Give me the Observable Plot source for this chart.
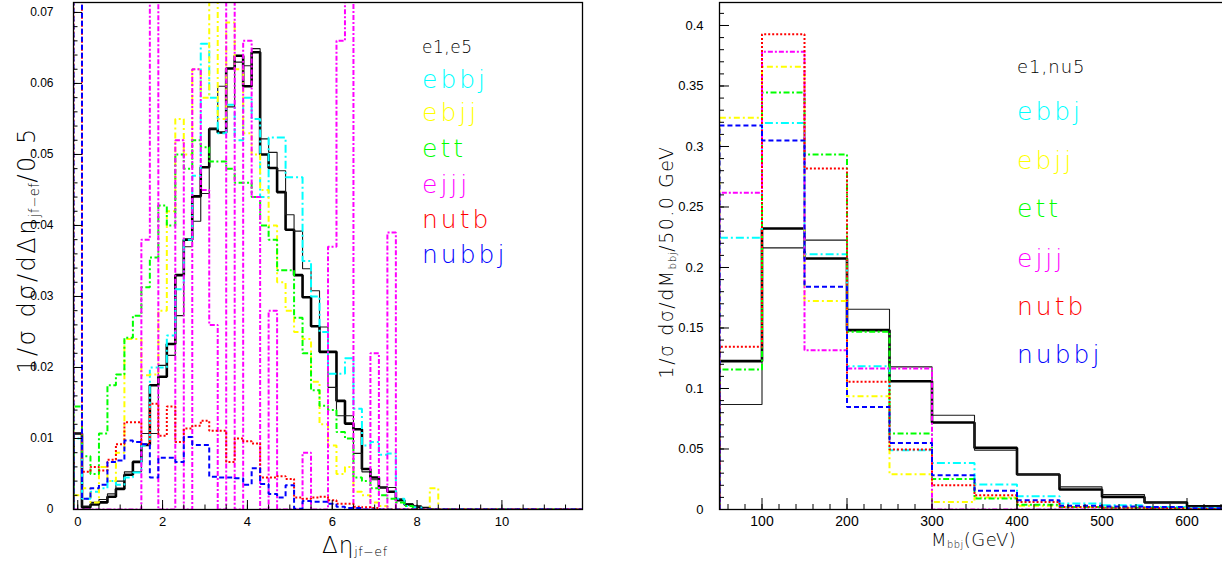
<!DOCTYPE html>
<html><head><meta charset="utf-8">
<script src="https://cdn.jsdelivr.net/npm/d3@7"></script>
<script src="https://cdn.jsdelivr.net/npm/@observablehq/plot@0.6"></script>
<style>
html,body{margin:0;padding:0;background:#fff;}
body{width:1222px;height:566px;overflow:hidden;position:relative;font-family:"Liberation Sans",Arial,sans-serif;}
#left,#right{position:absolute;top:0;}
#left{left:0;} #right{left:600px;}
svg{max-width:none !important;}
.t{position:absolute;white-space:nowrap;font-family:"DejaVu Sans ExtraLight","DejaVu Sans","Liberation Sans",sans-serif;font-weight:200;line-height:1;}
.t sub{font-size:55%;vertical-align:-0.25em;letter-spacing:0.5px;}
</style></head><body>
<div id="left"></div><div id="right"></div>
<script>
// ---------- DATA ----------
const seriesNames = ["e1","e5","ebbj","ebjj","ett","ejjj","nutb","nubbj"];
const legendLeft = ["e1,e5","ebbj","ebjj","ett","ejjj","nutb","nubbj"];
const legendRight = ["e1,nu5","ebbj","ebjj","ett","ejjj","nutb","nubbj"];

// Δη(jf-ef) histograms: 60 bins of 0.2 starting at -0.1
const etaBinStart = -0.1, etaBinWidth = 0.2;
const etaE1 = [0.0107,0.0003,0.0007,0.001,0.0018,0.0029,0.0049,0.0067,0.0091,0.0175,
 0.0187,0.0233,0.033,0.038,0.0441,0.0482,0.0536,0.0531,0.0621,0.0639,
 0.0596,0.0644,0.05,0.0481,0.0447,0.0394,0.033,0.0299,0.0258,0.0222,
 0.0222,0.0153,0.0121,0.0113,0.0057,0.0045,0.0031,0.0025,0.0013,0.0007,
 0.0004,0.0002,0,0,0,0,0,0,0,0, 0,0,0,0,0,0,0,0,0,0];
const etaE5 = [0.0107,0.0005,0.001,0.0014,0.0022,0.004,0.0053,0.0053,0.0107,0.0107,
 0.0203,0.0217,0.0273,0.037,0.0406,0.0445,0.0536,0.0596,0.0567,0.063,
 0.0625,0.0649,0.0522,0.0503,0.0477,0.0415,0.0392,0.0339,0.0308,0.0257,
 0.0172,0.0132,0.0132,0.0079,0.0053,0.0042,0.0031,0.0031,0.0015,0.0008,
 0.0004,0.0002,0,0,0,0,0,0,0,0, 0,0,0,0,0,0,0,0,0,0];
const etaEbbj = [0.010,0.0015,0.0025,0.003,0.004,0.0035,0.0045,0.0052,0.009,0.020,
 0.020,0.0245,0.031,0.038,0.047,0.0656,0.058,0.053,0.057,0.052,
 0.058,0.055,0.044,0.0524,0.0524,0.0468,0.0468,0.035,0.030,0.025,
 0.0191,0.0191,0.0213,0.0142,0.009,0.0095,0.0077,0.0079,0.0015,0.0005,
 0.0003,0,0,0,0,0,0,0,0,0, 0,0,0,0,0,0,0,0,0,0];
const etaEbjj = [0.002,0.003,0.001,0.006,0.004,0.008,0.024,0.024,0.0189,0.019,
 0.028,0.042,0.055,0.050,0.062,0.058,0.2,0.055,0.0686,0.062,
 0.053,0.050,0.045,0.040,0.032,0.028,0.025,0.024,0.018,0.012,
 0.009,0.005,0.006,0.0025,0.002,0.001,0.0005,0,0,0,
 0,0,0.003,0,0,0,0,0,0,0, 0,0,0,0,0,0,0,0,0,0];
const etaEtt = [0.0145,0.0075,0.005,0.0107,0.0175,0.019,0.0242,0.0273,0.0313,0.0355,
 0.0428,0.040,0.050,0.048,0.052,0.051,0.049,0.049,0.048,0.046,
 0.046,0.044,0.040,0.038,0.0337,0.0337,0.027,0.022,0.0168,0.0146,
 0.014,0.0109,0.010,0.0045,0.004,0.003,0.002,0.0015,0.001,0.0005,
 0,0,0,0,0,0,0,0,0,0, 0,0,0,0,0,0,0,0,0,0];
const etaEjjj = [0,0,0,0,0,0,0,0,0.038,0.2,
 0,0,0.052,0,0.062,0.045,0.026,0,0.2,0,
 0.066,0.044,0,0.028,0,0,0,0.008,0,0,
 0.037,0.066,0.2,0,0,0.022,0,0.039,0,0,
 0,0,0,0,0,0,0,0,0,0, 0,0,0,0,0,0,0,0,0,0];
const etaNutb = [0.2,0.0053,0.006,0.0055,0.007,0.0092,0.0123,0.0123,0.0092,0.0149,
 0.0104,0.0145,0.0095,0.0114,0.0118,0.0125,0.0111,0.0111,0.0067,0.010,
 0.0096,0.0093,0.0045,0.0045,0.0047,0.0043,0.0017,0.0015,0.0017,0.0018,
 0.0013,0.0008,0.0008,0.0004,0.0003,0.0002,0,0,0,0,
 0,0,0,0,0,0,0,0,0,0, 0,0,0,0,0,0,0,0,0,0];
const etaNubbj = [0.2,0.0015,0.003,0.0035,0.0067,0.0069,0.0097,0.0095,0.0092,0.0045,
 0.0073,0.0073,0.0067,0.0102,0.0091,0.0091,0.0046,0.0045,0.0045,0.0044,
 0.0035,0.0058,0.0036,0.0022,0.0017,0.0034,0.0001,0.0012,0.0011,0.0011,
 0.0008,0.0004,0.0002,0.0002,0,0,0,0,0,0,
 0,0,0,0,0,0,0,0,0,0, 0,0,0,0,0,0,0,0,0,0];

// M(bbj) histograms: 12 bins of 50 GeV starting at 50
const massBinStart = 50, massBinWidth = 50;
const mE1    = [0.1226,0.2322,0.2074,0.1482,0.106,0.0719,0.0509,0.0289,0.0165,0.0104,0.0058,0.0027];
const mE5    = [0.0868,0.2162,0.2226,0.1655,0.1179,0.0779,0.049,0.029,0.0187,0.0124,0.006,0.0027];
const mEbbj  = [0.2245,0.3195,0.211,0.1184,0.049,0.0385,0.0207,0.011,0.005,0.0036,0.002,0.001];
const mEbjj  = [0.3237,0.3658,0.1724,0.0936,0.0292,0.0063,0.010,0.003,0.002,0.0015,0.001,0.0005];
const mEtt   = [0.1157,0.3446,0.2934,0.1468,0.0628,0.0253,0.0091,0.004,0.002,0.0015,0.001,0.0005];
const mEjjj  = [0.2617,0.3782,0.1317,0.1165,0.1165,0,0,0,0,0,0,0];
const mNutb  = [0.1344,0.3928,0.2818,0.1055,0.0496,0.0201,0.0118,0.0063,0.002,0.0015,0.001,0.0005];
const mNubbj = [0.3174,0.305,0.184,0.0848,0.055,0.0283,0.0154,0.0077,0.003,0.0025,0.002,0.001];

// tick labels
const leftYTicks = [0,0.01,0.02,0.03,0.04,0.05,0.06,0.07];
const leftXTicks = [0,2,4,6,8,10];
const rightYTicks = [0,0.05,0.1,0.15,0.2,0.25,0.3,0.35,0.4];
const rightXTicks = [100,200,300,400,500,600];

// ---------- STYLES ----------
const style = {
  e1:    {stroke:"#000000", width:2.6, dash:null},
  e5:    {stroke:"#1a1a1a", width:1.1, dash:null},
  ebbj:  {stroke:"#00ffff", width:2, dash:"8,3,2,3"},
  ebjj:  {stroke:"#ffff00", width:2, dash:"6,3,2,3"},
  ett:   {stroke:"#00ff00", width:2, dash:"6,2.5,2,2.5"},
  ejjj:  {stroke:"#ff00ff", width:2, dash:"5,2,2,2"},
  nutb:  {stroke:"#ff0000", width:2, dash:"2,2"},
  nubbj: {stroke:"#0000ff", width:2, dash:"5,3"}
};
const legendColor = ["#000000","#00ffff","#ffff00","#00ff00","#ff00ff","#ff0000","#0000ff"];

function steps(values, start, width) {
  const pts = [{x: start, y: 0}];
  values.forEach((v, i) => {
    pts.push({x: start + i * width, y: v});
    pts.push({x: start + (i + 1) * width, y: v});
  });
  pts.push({x: start + values.length * width, y: 0});
  return pts;
}
function histMarks(arrays, start, width) {
  return seriesNames.map((name, i) => {
    const s = style[name];
    const o = {x: "x", y: "y", stroke: s.stroke, strokeWidth: s.width, clip: true, curve: "linear",
      strokeLinecap: "butt", strokeLinejoin: "miter"};
    if (s.dash) o.strokeDasharray = s.dash;
    return Plot.line(steps(arrays[i], start, width), o);
  });
}

// ---------- LEFT PANEL ----------
const left = Plot.plot({
  width: 600, height: 566,
  marginLeft: 73, marginRight: 18, marginTop: 2, marginBottom: 57,
  style: {background: "transparent", fontFamily: "Liberation Sans, Arial, sans-serif", fontSize: "12px", color: "#000"},
  x: {domain: [-0.1, 11.9], label: null},
  y: {domain: [0, 0.0714], label: null},
  marks: [
    ...histMarks([etaE1, etaE5, etaEbbj, etaEbjj, etaEtt, etaEjjj, etaNutb, etaNubbj], etaBinStart, etaBinWidth),
    Plot.axisY(d3.range(0, 0.0715, 0.002), {anchor: "left", tickSize: -4.5, text: null, strokeWidth: 1}),
    Plot.axisY(leftYTicks, {anchor: "left", tickSize: -9, text: null, strokeWidth: 1}),
    Plot.axisY(leftYTicks, {anchor: "left", tickSize: 0, tickPadding: 20, tickFormat: d => String(d), fontSize: 12}),
    Plot.axisX(d3.range(0, 11.9, 0.5), {anchor: "bottom", tickSize: -4.5, text: null, strokeWidth: 1}),
    Plot.axisX(leftXTicks, {anchor: "bottom", tickSize: -9, text: null, strokeWidth: 1}),
    Plot.axisX(leftXTicks, {anchor: "bottom", tickSize: 0, tickPadding: 7, tickFormat: d => String(d), fontSize: 13}),
    Plot.frame({stroke: "#000", strokeWidth: 1.3})
  ]
});
document.getElementById("left").appendChild(left);

// ---------- RIGHT PANEL ----------
const right = Plot.plot({
  width: 640, height: 566,
  marginLeft: 119, marginRight: 11, marginTop: 2, marginBottom: 57,
  style: {background: "transparent", fontFamily: "Liberation Sans, Arial, sans-serif", fontSize: "13px", color: "#000"},
  x: {domain: [50, 650], label: null},
  y: {domain: [0, 0.419], label: null},
  marks: [
    ...histMarks([mE1, mE5, mEbbj, mEbjj, mEtt, mEjjj, mNutb, mNubbj], massBinStart, massBinWidth),
    Plot.axisY(d3.range(0, 0.419, 0.01), {anchor: "left", tickSize: -5, text: null, strokeWidth: 1}),
    Plot.axisY(rightYTicks, {anchor: "left", tickSize: -10, text: null, strokeWidth: 1}),
    Plot.axisY(rightYTicks, {anchor: "left", tickSize: 0, tickPadding: 16, tickFormat: d => String(d), fontSize: 13}),
    Plot.axisX(d3.range(60, 650, 20), {anchor: "bottom", tickSize: -5, text: null, strokeWidth: 1}),
    Plot.axisX(rightXTicks, {anchor: "bottom", tickSize: -11, text: null, strokeWidth: 1}),
    Plot.axisX(rightXTicks, {anchor: "bottom", tickSize: 0, tickPadding: 7, tickFormat: d => String(d), fontSize: 14}),
    Plot.frame({stroke: "#000", strokeWidth: 1.3})
  ]
});
document.getElementById("right").appendChild(right);

// ---------- TEXT ----------
function addText(html, css) {
  const d = document.createElement("div");
  d.className = "t";
  d.innerHTML = html;
  Object.assign(d.style, css);
  document.body.appendChild(d);
  return d;
}
// axis titles
addText("1/σ dσ/dΔη<sub>jf−ef</sub>/0.5", {left: "28px", top: "250px", fontSize: "24px", letterSpacing: "2.5px",
  transform: "translate(-50%,-50%) rotate(-90deg)"});
addText("Δη<sub>jf−ef</sub>", {left: "322px", top: "534px", fontSize: "23px", letterSpacing: "1px"});
addText("1/σ dσ/dM<sub>bbj</sub>/50.0 GeV", {left: "667px", top: "262px", fontSize: "19px", letterSpacing: "1.5px",
  transform: "translate(-50%,-50%) rotate(-90deg)"});
addText("M<sub>bbj</sub>(GeV)", {left: "931px", top: "531px", fontSize: "18px", letterSpacing: "0.5px"});

// legends
const leftBase = [53, 88, 121, 157, 193, 228, 263];
legendLeft.forEach((t, i) => {
  const fs = i === 0 ? 17 : 25;
  addText(t, {left: "422px", top: (leftBase[i] - fs * 0.85) + "px", fontSize: fs + "px",
    letterSpacing: i === 0 ? "0.5px" : "3px", color: legendColor[i]});
});
const rightBase = [73, 120, 169, 217, 267, 315, 363];
legendRight.forEach((t, i) => {
  const fs = i === 0 ? 18 : 25;
  addText(t, {left: "1017px", top: (rightBase[i] - fs * 0.85) + "px", fontSize: fs + "px",
    letterSpacing: i === 0 ? "1px" : "3px", color: legendColor[i]});
});
</script>
</body></html>
